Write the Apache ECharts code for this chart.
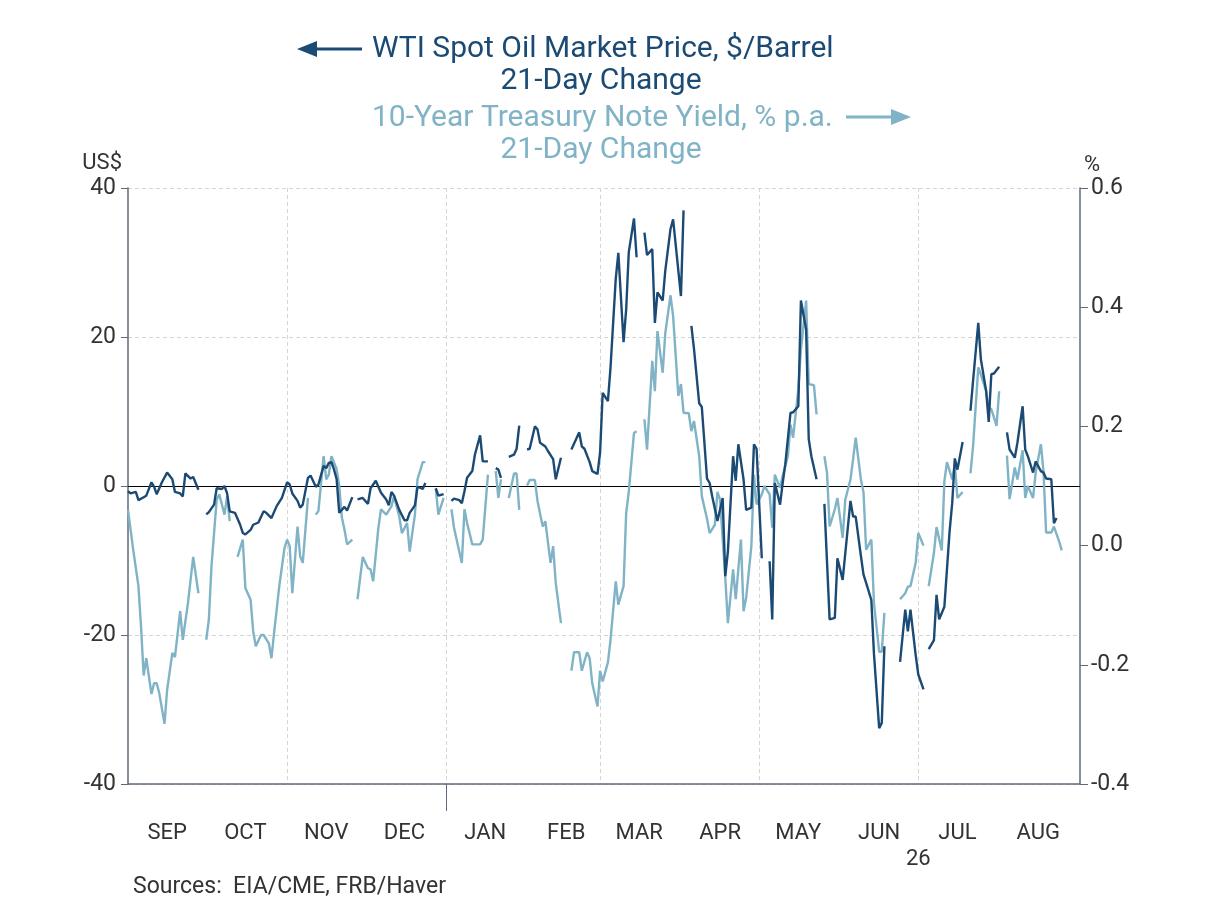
<!DOCTYPE html>
<html>
<head>
<meta charset="utf-8">
<script src="https://cdn.jsdelivr.net/npm/echarts@6/dist/echarts.min.js"></script>
<style>
html,body{margin:0;padding:0;background:#fff;}
#chart{width:1208px;height:906px;}
</style>
</head>
<body>
<div id="chart"></div>
<script>
// ---- data ----
const monthLabels = ['SEP','OCT','NOV','DEC','JAN','FEB','MAR','APR','MAY','JUN','JUL','AUG'];
const leftTicks = [-40, -20, 0, 20, 40];
const rightTicks = [-0.4, -0.2, 0.0, 0.2, 0.4, 0.6];

const wtiDates = ['2025-09-01','2025-09-02','2025-09-04','2025-09-05','2025-09-07','2025-09-08','2025-09-10','2025-09-11','2025-09-12','2025-09-14','2025-09-16','2025-09-18','2025-09-19','2025-09-21','2025-09-22','2025-09-23','2025-09-25','2025-09-26','2025-09-28','2025-09-29',
'2025-10-01','2025-10-02','2025-10-04','2025-10-05','2025-10-07','2025-10-08','2025-10-09','2025-10-10','2025-10-12','2025-10-14','2025-10-15','2025-10-16','2025-10-18','2025-10-19','2025-10-21','2025-10-23','2025-10-24','2025-10-26','2025-10-28','2025-10-30',
'2025-11-01','2025-11-02','2025-11-03','2025-11-05','2025-11-06','2025-11-07','2025-11-09','2025-11-10','2025-11-12','2025-11-13','2025-11-15','2025-11-16','2025-11-17','2025-11-18','2025-11-19','2025-11-20','2025-11-21','2025-11-23','2025-11-24','2025-11-26','2025-11-27','2025-11-28','2025-11-30',
'2025-12-02','2025-12-03','2025-12-05','2025-12-07','2025-12-09','2025-12-10','2025-12-11','2025-12-12','2025-12-14','2025-12-16','2025-12-17','2025-12-18','2025-12-20','2025-12-21','2025-12-23','2025-12-24','2025-12-25','2025-12-28','2025-12-29','2025-12-31',
'2026-01-01','2026-01-03','2026-01-04','2026-01-06','2026-01-07','2026-01-08','2026-01-09','2026-01-11','2026-01-12','2026-01-14','2026-01-15','2026-01-17','2026-01-19','2026-01-20','2026-01-21','2026-01-22','2026-01-24','2026-01-25','2026-01-27','2026-01-28','2026-01-29','2026-01-31',
'2026-02-01','2026-02-02','2026-02-04','2026-02-05','2026-02-06','2026-02-08','2026-02-09','2026-02-11','2026-02-12','2026-02-14','2026-02-16','2026-02-18','2026-02-21','2026-02-22','2026-02-23','2026-02-25','2026-02-26','2026-02-28',
'2026-03-01','2026-03-02','2026-03-04','2026-03-05','2026-03-07','2026-03-08','2026-03-10','2026-03-11','2026-03-12','2026-03-14','2026-03-15','2026-03-17','2026-03-18','2026-03-19','2026-03-21','2026-03-22','2026-03-23','2026-03-25','2026-03-26','2026-03-28','2026-03-29',
'2026-04-01','2026-04-02','2026-04-04','2026-04-05','2026-04-06','2026-04-08','2026-04-09','2026-04-11','2026-04-12','2026-04-13','2026-04-15','2026-04-17','2026-04-18','2026-04-19','2026-04-21','2026-04-22','2026-04-23','2026-04-25','2026-04-26','2026-04-28','2026-04-29','2026-04-30',
'2026-05-02','2026-05-04','2026-05-05','2026-05-06','2026-05-07','2026-05-09','2026-05-10','2026-05-11','2026-05-13','2026-05-14','2026-05-16','2026-05-17','2026-05-19','2026-05-20','2026-05-21','2026-05-23','2026-05-25','2026-05-26','2026-05-28','2026-05-30','2026-05-31',
'2026-06-02','2026-06-05','2026-06-06','2026-06-07','2026-06-09','2026-06-10','2026-06-11','2026-06-13','2026-06-14','2026-06-16','2026-06-17','2026-06-18','2026-06-20','2026-06-24','2026-06-26','2026-06-27','2026-06-28','2026-06-30',
'2026-07-01','2026-07-03','2026-07-04','2026-07-05','2026-07-07','2026-07-08','2026-07-09','2026-07-11','2026-07-13','2026-07-14','2026-07-15','2026-07-16','2026-07-18','2026-07-20','2026-07-21','2026-07-22','2026-07-24','2026-07-25','2026-07-27','2026-07-28','2026-07-29','2026-07-30',
'2026-08-01','2026-08-03','2026-08-04','2026-08-05','2026-08-07','2026-08-08','2026-08-10','2026-08-11','2026-08-12','2026-08-14','2026-08-15','2026-08-17','2026-08-18','2026-08-19','2026-08-21','2026-08-22','2026-08-23'];
const wtiValues = [-0.7,-1.0,-0.8,-1.9,-1.5,-1.3,0.5,-0.1,-1.1,0.5,1.8,0.9,-0.8,-1.0,-1.4,1.7,1.0,1.2,-0.5,null,
-3.8,-3.5,-2.5,-0.3,-0.4,0.0,-1.0,-3.4,-3.6,-5.2,-6.3,-6.5,-5.9,-5.2,-4.9,-3.4,-3.6,-4.3,-2.7,-1.6,
0.5,0.2,-1.0,-2.0,-2.9,-2.5,1.1,1.4,-0.1,0.2,2.7,2.4,3.1,3.2,2.2,0.9,-3.6,-2.8,-3.3,-1.5,null,-1.8,-1.6,
-2.4,-0.3,0.7,-0.9,-1.8,-2.6,-0.8,-1.3,-3.2,-4.6,-4.6,-3.6,-2.6,-0.1,-0.4,0.4,null,-0.3,-1.3,-1.1,
null,-2.0,-1.7,-1.9,-2.3,-0.7,1.1,2.0,4.2,6.8,3.3,3.3,null,2.4,2.2,1.1,null,3.9,4.2,5.0,8.1,null,
4.9,5.0,8.0,7.6,5.8,5.3,4.7,3.6,0.9,3.8,null,4.9,7.2,5.3,5.0,3.2,2.0,1.6,
4.5,12.5,11.4,15.9,27.8,31.3,19.3,23.7,31.4,35.9,30.7,null,34.0,31.0,31.8,21.9,26.0,24.9,28.9,34.5,35.8,
25.5,37.0,null,21.5,18.4,11.1,10.6,1.0,0.4,-1.4,-4.7,-1.6,-12.1,-8.8,4.0,0.7,5.6,0.9,-3.2,-2.9,5.6,5.0,
-9.7,null,-10.1,-17.9,0.4,-2.5,0.4,2.9,9.8,9.9,10.7,24.9,21.0,6.3,4.0,0.9,null,-2.4,-17.9,-17.7,-9.7,
-12.6,-2.0,-4.1,-4.1,-9.4,-11.9,-13.0,-15.3,-22.5,-32.5,-31.8,-21.5,null,-23.6,-16.6,-19.5,-16.6,-22.7,
-25.3,-27.3,null,-21.9,-20.7,-14.6,-17.9,-16.2,-6.1,-2.3,3.7,2.2,5.9,null,10.1,14.1,21.9,17.0,12.8,8.6,15.0,15.1,
16.0,null,7.2,4.9,3.8,5.8,10.7,4.9,4.0,1.8,3.3,2.0,1.8,1.0,0.9,-5.0,-4.3];

const tsyDates = ['2025-09-01','2025-09-03','2025-09-05','2025-09-06','2025-09-07','2025-09-08','2025-09-10','2025-09-11','2025-09-12','2025-09-13','2025-09-15','2025-09-16','2025-09-18','2025-09-19','2025-09-21','2025-09-22','2025-09-24','2025-09-25','2025-09-26','2025-09-28','2025-09-29',
'2025-10-01','2025-10-02','2025-10-03','2025-10-05','2025-10-06','2025-10-08','2025-10-09','2025-10-10','2025-10-12','2025-10-13','2025-10-15','2025-10-16','2025-10-18','2025-10-19','2025-10-20','2025-10-22','2025-10-23','2025-10-25','2025-10-26','2025-10-27','2025-10-29','2025-10-31',
'2025-11-01','2025-11-02','2025-11-03','2025-11-05','2025-11-06','2025-11-07','2025-11-09','2025-11-10','2025-11-12','2025-11-13','2025-11-15','2025-11-16','2025-11-17','2025-11-18','2025-11-20','2025-11-21','2025-11-22','2025-11-23','2025-11-24','2025-11-26','2025-11-27','2025-11-28','2025-11-30',
'2025-12-02','2025-12-03','2025-12-04','2025-12-06','2025-12-07','2025-12-09','2025-12-11','2025-12-12','2025-12-14','2025-12-15','2025-12-17','2025-12-18','2025-12-20','2025-12-21','2025-12-23','2025-12-24','2025-12-25','2025-12-28','2025-12-29','2025-12-31',
'2026-01-01','2026-01-03','2026-01-04','2026-01-05','2026-01-07','2026-01-08','2026-01-09','2026-01-11','2026-01-13','2026-01-14','2026-01-15','2026-01-17','2026-01-19','2026-01-20','2026-01-21','2026-01-22','2026-01-24','2026-01-25','2026-01-27','2026-01-28','2026-01-29','2026-01-31',
'2026-02-01','2026-02-02','2026-02-04','2026-02-05','2026-02-07','2026-02-08','2026-02-10','2026-02-11','2026-02-12','2026-02-14','2026-02-16','2026-02-18','2026-02-19','2026-02-21','2026-02-22','2026-02-24','2026-02-25','2026-02-26','2026-02-28',
'2026-03-01','2026-03-02','2026-03-04','2026-03-05','2026-03-07','2026-03-08','2026-03-10','2026-03-11','2026-03-12','2026-03-14','2026-03-15','2026-03-17','2026-03-18','2026-03-19','2026-03-21','2026-03-22','2026-03-23','2026-03-25','2026-03-26','2026-03-28','2026-03-29','2026-03-31',
'2026-04-01','2026-04-02','2026-04-04','2026-04-05','2026-04-06','2026-04-08','2026-04-09','2026-04-11','2026-04-12','2026-04-14','2026-04-15','2026-04-16','2026-04-18','2026-04-19','2026-04-21','2026-04-22','2026-04-24','2026-04-25','2026-04-26','2026-04-28','2026-04-29','2026-04-30',
'2026-05-02','2026-05-03','2026-05-05','2026-05-06','2026-05-07','2026-05-09','2026-05-10','2026-05-12','2026-05-13','2026-05-14','2026-05-16','2026-05-17','2026-05-19','2026-05-20','2026-05-22','2026-05-23','2026-05-25','2026-05-26','2026-05-27','2026-05-28','2026-05-30','2026-05-31',
'2026-06-02','2026-06-03','2026-06-05','2026-06-06','2026-06-07','2026-06-09','2026-06-10','2026-06-11','2026-06-13','2026-06-14','2026-06-16','2026-06-17','2026-06-18','2026-06-20','2026-06-24','2026-06-26','2026-06-27','2026-06-28','2026-06-30',
'2026-07-01','2026-07-03','2026-07-04','2026-07-05','2026-07-07','2026-07-08','2026-07-10','2026-07-11','2026-07-12','2026-07-14','2026-07-15','2026-07-16','2026-07-18','2026-07-20','2026-07-21','2026-07-22','2026-07-24','2026-07-25','2026-07-27','2026-07-28','2026-07-29','2026-07-31',
'2026-08-01','2026-08-03','2026-08-04','2026-08-05','2026-08-07','2026-08-08','2026-08-10','2026-08-11','2026-08-12','2026-08-14','2026-08-15','2026-08-17','2026-08-18','2026-08-19','2026-08-21','2026-08-22','2026-08-24','2026-08-25'];
const tsyValues = [0.060,-0.007,-0.068,-0.136,-0.218,-0.189,-0.249,-0.231,-0.231,-0.248,-0.299,-0.242,-0.180,-0.187,-0.110,-0.158,-0.096,-0.057,-0.019,-0.080,null,
-0.158,-0.124,-0.035,0.077,0.086,0.052,0.083,0.041,null,-0.019,0.010,-0.071,-0.091,-0.144,-0.169,-0.150,-0.150,-0.164,-0.189,-0.147,-0.068,-0.004,
0.010,-0.001,-0.080,0.032,-0.018,-0.029,0.080,null,0.052,0.058,0.150,0.111,0.119,0.150,0.128,0.100,0.047,0.027,0.002,0.010,null,-0.090,-0.019,
-0.038,-0.040,-0.060,0.030,0.061,0.052,0.066,0.083,0.049,0.021,0.038,-0.010,0.052,0.111,0.140,0.140,null,0.095,0.052,0.080,
null,0.061,0.030,0.010,-0.029,0.061,0.038,0.002,0.002,0.002,0.010,0.119,null,0.125,0.080,0.111,null,0.080,0.121,0.121,0.060,null,
0.101,0.110,0.110,0.075,0.032,0.041,-0.029,-0.001,-0.063,-0.130,null,-0.210,-0.179,-0.179,-0.210,-0.179,-0.189,-0.231,-0.270,
-0.210,-0.228,-0.196,-0.158,-0.060,-0.099,-0.068,0.055,0.090,0.189,0.192,null,0.212,0.161,0.310,0.259,0.360,0.290,0.357,0.420,0.385,0.251,
0.271,0.223,0.222,0.192,0.209,0.150,0.083,0.045,0.021,0.035,0.090,0.077,-0.054,-0.130,-0.040,-0.090,0.010,-0.110,-0.088,-0.001,0.119,0.069,
0.086,0.100,0.086,0.030,0.119,0.097,0.117,0.150,0.203,0.181,0.262,0.329,0.411,0.271,0.269,0.220,null,0.150,0.122,0.032,0.061,0.080,
0.013,0.077,0.111,0.145,0.181,0.111,0.089,-0.007,0.010,-0.096,-0.178,-0.178,-0.113,null,-0.090,-0.080,-0.069,-0.068,-0.029,
0.021,0.000,null,-0.068,-0.012,0.031,-0.008,0.108,0.140,0.111,0.136,0.080,0.090,null,0.121,0.167,0.299,0.287,0.259,0.231,0.229,0.201,
0.259,null,0.151,0.078,0.131,0.111,0.160,0.080,0.100,0.080,0.122,0.170,0.125,0.022,0.022,0.032,0.007,-0.008];

// ---- helpers ----
const DARK = '#1b4a74';
const LIGHT = '#80b3c6';
const AXIS = '#5f6b78';
const FONT = 'Roboto, "Noto Sans", sans-serif';
function ts(y, m, d) { return new Date(y, m - 1, d).getTime(); }
function parseDay(s) { const p = s.split('-').map(Number); return ts(p[0], p[1], p[2]); }
const xMin = ts(2025, 9, 1), xMax = ts(2026, 9, 1);
const labelDays = monthLabels.map((_, i) => { const m = 9 + i; return m <= 12 ? ts(2025, m, 16) : ts(2026, m - 12, 16); });
const gridDays = [ts(2025,11,1), ts(2026,1,1), ts(2026,3,1), ts(2026,5,1), ts(2026,7,1)];
const wtiData = wtiDates.map((d, i) => [parseDay(d), wtiValues[i]]);
const tsyData = tsyDates.map((d, i) => [parseDay(d), tsyValues[i]]);

const chart = echarts.init(document.getElementById('chart'), null, { renderer: 'canvas' });
const option = {
  backgroundColor: '#fff',
  animation: false,
  textStyle: { fontFamily: FONT },
  grid: { left: 128, right: 128, top: 188, height: 596 },
  xAxis: [{
    type: 'value',
    min: xMin, max: xMax,
    axisLine: { show: true, onZero: false, lineStyle: { color: AXIS, width: 1.5 } },
    axisTick: { show: false, customValues: gridDays },
    splitLine: { show: true, lineStyle: { color: '#d4d4d4', type: [4, 3], width: 1 } },
    axisLabel: {
      customValues: labelDays,
      fontSize: 22, color: '#333', fontFamily: FONT, margin: 38,
      formatter: function (v) {
        const dt = new Date(v);
        const idx = (dt.getFullYear() - 2025) * 12 + dt.getMonth() - 8;
        return monthLabels[idx] || '';
      }
    }
  }, {
    type: 'value',
    min: xMin, max: xMax,
    position: 'bottom',
    axisLine: { show: false, onZero: false },
    axisTick: { show: true, customValues: [ts(2026,1,1)], length: 27, lineStyle: { color: AXIS, width: 1 } },
    splitLine: { show: false },
    axisLabel: {
      customValues: [ts(2026,7,1)], fontSize: 22, color: '#333', fontFamily: FONT, margin: 64,
      formatter: function () { return '26'; }
    }
  }],
  yAxis: [{
    type: 'value', position: 'left',
    min: leftTicks[0], max: leftTicks[leftTicks.length - 1], interval: 20,
    name: 'US$', nameLocation: 'end', nameGap: 14,
    nameTextStyle: { fontSize: 22, color: '#333', align: 'right', padding: [0, 6, 0, 0], fontFamily: FONT },
    axisLine: { show: true, lineStyle: { color: AXIS, width: 1.5 } },
    axisTick: { show: true, length: 7, lineStyle: { color: AXIS } },
    axisLabel: { fontSize: 23, color: '#333', margin: 12, fontFamily: FONT },
    splitLine: { show: true, lineStyle: { color: '#d4d4d4', type: [4, 3] } }
  }, {
    type: 'value', position: 'right',
    min: rightTicks[0], max: rightTicks[rightTicks.length - 1], interval: 0.2,
    name: '%', nameLocation: 'end', nameGap: 11,
    nameTextStyle: { fontSize: 22, color: '#333', align: 'left', padding: [0, 0, 0, 4], fontFamily: FONT },
    axisLine: { show: true, lineStyle: { color: AXIS, width: 1.5 } },
    axisTick: { show: true, length: 8, lineStyle: { color: AXIS } },
    axisLabel: { fontSize: 23, color: '#333', margin: 11, fontFamily: FONT, formatter: v => v.toFixed(1) },
    splitLine: { show: false }
  }],
  series: [{
    name: '10-Year Treasury Note Yield', type: 'line', xAxisIndex: 0, yAxisIndex: 1,
    data: tsyData, showSymbol: false, symbol: 'none', connectNulls: false,
    lineStyle: { color: LIGHT, width: 2.4 }, itemStyle: { color: LIGHT }, z: 2
  }, {
    name: 'WTI Spot Oil Market Price', type: 'line', xAxisIndex: 0, yAxisIndex: 0,
    data: wtiData, showSymbol: false, symbol: 'none', connectNulls: false,
    lineStyle: { color: DARK, width: 2.4 }, itemStyle: { color: DARK }, z: 3,
    markLine: {
      silent: true, symbol: ['none', 'none'], label: { show: false },
      lineStyle: { color: '#000', width: 1.2, type: 'solid' },
      data: [{ yAxis: 0 }], z: 1
    }
  }],
  graphic: [
    { type: 'text', left: 372, top: 34, style: { text: 'WTI Spot Oil Market Price, $/Barrel', fill: DARK, font: '30px ' + FONT } },
    { type: 'text', x: 601, y: 66, style: { text: '21-Day Change', fill: DARK, font: '30px ' + FONT, textAlign: 'center' } },
    { type: 'text', left: 372, top: 103, style: { text: '10-Year Treasury Note Yield, % p.a.', fill: LIGHT, font: '30px ' + FONT } },
    { type: 'text', x: 601, y: 135, style: { text: '21-Day Change', fill: LIGHT, font: '30px ' + FONT, textAlign: 'center' } },
    { type: 'line', shape: { x1: 312, y1: 49, x2: 362, y2: 49 }, style: { stroke: DARK, lineWidth: 3 } },
    { type: 'polygon', shape: { points: [[297, 49], [317, 41], [317, 57]] }, style: { fill: DARK } },
    { type: 'line', shape: { x1: 846, y1: 117, x2: 896, y2: 117 }, style: { stroke: LIGHT, lineWidth: 3 } },
    { type: 'polygon', shape: { points: [[911, 117], [891, 109], [891, 125]] }, style: { fill: LIGHT } },
    { type: 'text', left: 133, top: 876, style: { text: 'Sources:  EIA/CME, FRB/Haver', fill: '#333', font: '23px ' + FONT } }
  ]
};
chart.setOption(option);
</script>
</body>
</html>
